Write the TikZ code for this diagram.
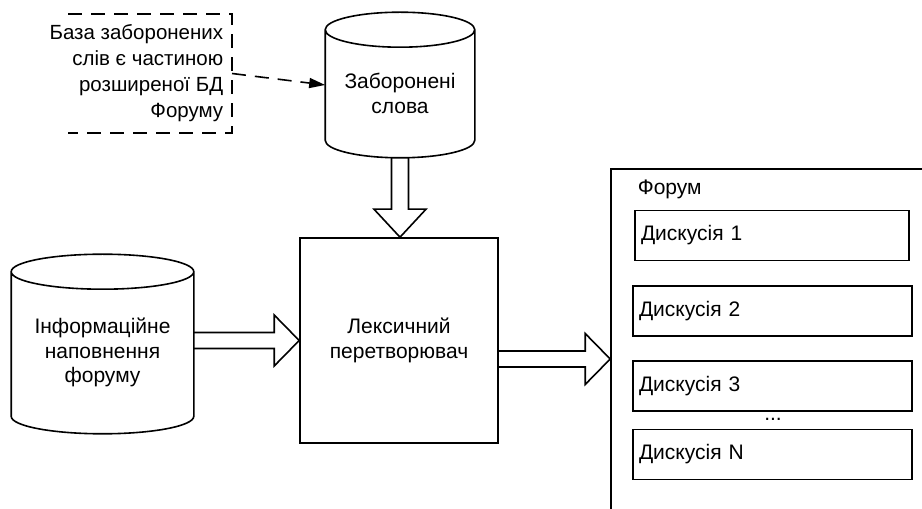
\documentclass[tikz,border=0pt]{standalone}
\usepackage{fontspec}
\setmainfont{Liberation Sans}
\usetikzlibrary{calc,arrows.meta}

\tikzset{
  lbl/.style={inner sep=0pt, align=center},
  dbase/.style={inner sep=0pt},
  topic/.style={draw, minimum height=50pt, inner xsep=6pt, text width=#1, align=left},
  notelink/.style={dash pattern=on 14pt off 9pt},
}

\newcommand\drawdb[2]{%
  \draw let \p1=(#1.north west), \p2=(#1.south east), \n1={(\x2-\x1)/2} in
    ($(#1.north)+(0,-#2)$) ellipse [x radius=\n1, y radius=#2]
    (\x1,\y1-#2) -- (\x1,\y2+#2) arc [start angle=180, end angle=360, x radius=\n1, y radius=#2] -- (\x2,\y1-#2);}
\newcommand\fatright[2]{%
  \draw let \p1=(#1), \p2=(#2) in
    (\x1,\y2+8pt) -- (\x2-25pt,\y2+8pt) -- (\x2-25pt,\y2+25.5pt) -- (\x2,\y2)
    -- (\x2-25pt,\y2-25.5pt) -- (\x2-25pt,\y2-8pt) -- (\x1,\y2-8pt);}
\newcommand\fatdown[2]{%
  \draw let \p1=(#1), \p2=(#2) in
    (\x1-8.5pt,\y1) -- (\x1-8.5pt,\y2+28pt) -- (\x1-26pt,\y2+28pt) -- (\x1,\y2)
    -- (\x1+26pt,\y2+28pt) -- (\x1+8.5pt,\y2+28pt) -- (\x1+8.5pt,\y1);}

\begin{document}
\begin{tikzpicture}[x=1pt,y=1pt,line width=1.6pt,font=\fontsize{21pt}{24.5pt}\selectfont]
\fill[white] (0,0) rectangle (922,509);
\useasboundingbox (0,0) rectangle (922,509);
\clip (0,0) rectangle (922,509);

\node[dbase, minimum width=148pt, minimum height=144pt] (banned) at (400,424) {};
\node[lbl] (bannedtxt) at (400,415.5) {Заборонені\\слова};
\drawdb{banned}{17.5pt}

\node[dbase, minimum width=181pt, minimum height=178pt] (content) at (102.5,165) {};
\node[lbl] (contenttxt) at (102.5,156.5) {Інформаційне\\наповнення\\форуму};
\drawdb{content}{17.5pt}

\node[draw, minimum width=198pt, minimum height=205pt, align=center] (lex) at (399,168.5) {Лексичний\\перетворювач};

\node[anchor=east, minimum height=117pt, inner xsep=8pt, align=right,
  font=\fontsize{20.5pt}{26pt}\selectfont] (note) at (232,435.5)
  {База заборонених\\слів є частиною\\розширеної БД\\Форуму};
\draw[notelink] ($(note.north east)+(-164,0)$) -- (note.north east) -- (note.south east) -- ++(-164,0);
\draw[notelink, -{Triangle[length=16pt,width=10pt]}] (note.east) -- (banned.west);

\node[draw, minimum width=340pt, minimum height=380pt] (forum) at (781,150) {};
\node[anchor=west, inner sep=3pt] (forumlbl) at (634,320) {Форум};
\node[topic=262pt] (d1) at (772,273.5) {Дискусія 1};
\node[topic=267pt] (d2) at (772.5,198) {Дискусія 2};
\node[topic=267pt] (d3) at (772.5,123) {Дискусія 3};
\node[inner sep=0pt] (dots) at (773,90) {...};
\node[topic=267pt] (dn) at (772.5,54.5) {Дискусія N};

\fatdown{banned.south}{lex.north}
\fatright{content.east}{lex.west}
\fatright{lex.east}{forum.west}
\end{tikzpicture}
\end{document}
